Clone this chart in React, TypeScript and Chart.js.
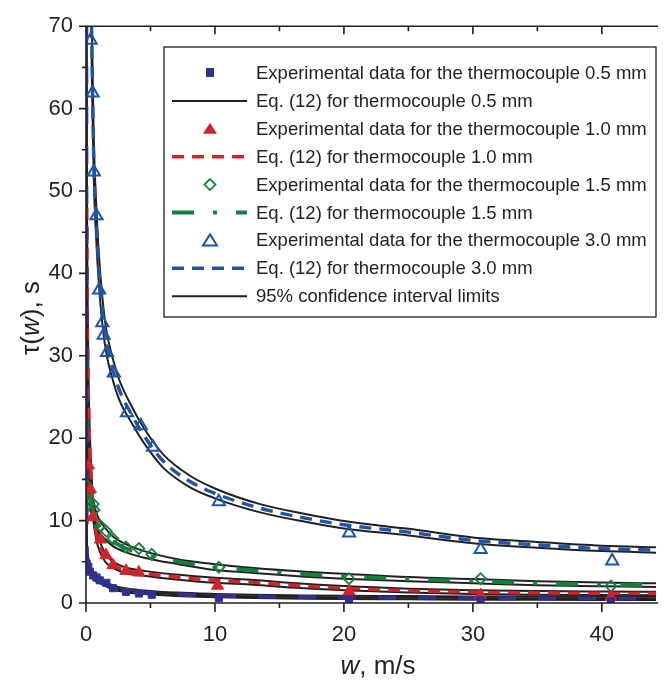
import React, { useEffect, useRef } from "react";
import { Chart, registerables } from "chart.js";

Chart.register(...registerables);

const FONT = '"Liberation Sans", Arial, Helvetica, sans-serif';
const INK = "#231f20";
const NAVY = "#2e3192";
const RED = "#d2232a";
const GREEN = "#15803d";
const BLUE = "#1d55a8";

const X_MIN = 0;
const X_MAX = 44.2;
const Y_MIN = 0;
const Y_MAX = 70;
const X_MAJOR = [0, 10, 20, 30, 40];
const X_MINOR = [5, 15, 25, 35];
const Y_MAJOR = [0, 10, 20, 30, 40, 50, 60, 70];
const Y_MINOR = [5, 15, 25, 35, 45, 55, 65];

// ---- thermocouple 0.5 mm ----
const W05 = [0.02, 0.05, 0.1, 0.2, 0.3, 0.5, 0.8, 1.0, 1.5, 2.0, 3.0, 4.5, 7, 10, 13, 17, 20, 25, 30, 35, 40, 44.5];
const T05_FIT = [70, 8, 5.6, 4.5, 3.9, 3.3, 2.9, 2.7, 2.3, 1.95, 1.55, 1.3, 1.05, 0.9, 0.8, 0.72, 0.68, 0.64, 0.6, 0.58, 0.56, 0.55];
const T05_UP = [75, 12, 6.3, 4.9, 4.25, 3.65, 3.2, 2.95, 2.55, 2.2, 1.78, 1.52, 1.26, 1.1, 1.0, 0.92, 0.88, 0.84, 0.8, 0.78, 0.76, 0.75];
const T05_LO = [null, 5.5, 4.8, 4.0, 3.5, 2.95, 2.6, 2.45, 2.05, 1.7, 1.32, 1.08, 0.84, 0.7, 0.6, 0.52, 0.48, 0.44, 0.4, 0.38, 0.36, 0.35];
const W05_EXP = [0.05, 0.18, 0.3, 0.56, 0.82, 1.07, 1.58, 2.09, 3.1, 4.1, 5.1, 10.3, 20.4, 30.6, 40.7];
const T05_EXP = [4.8, 4.4, 3.8, 3.35, 3.1, 2.75, 2.45, 1.8, 1.35, 1.15, 1.0, 0.6, 0.2, 0.35, 0.2];

// ---- thermocouple 1.0 mm ----
const W10 = [0.03, 0.06, 0.1, 0.15, 0.2, 0.3, 0.4, 0.55, 0.75, 1.0, 1.5, 2.0, 3.0, 4.5, 7, 10, 13, 16, 20, 25, 30, 35, 40, 44.5];
const T10_FIT = [null, 48, 37, 29, 24, 18.5, 15, 11.5, 9.0, 7.2, 5.5, 4.75, 4.0, 3.6, 3.15, 2.75, 2.5, 2.15, 1.8, 1.5, 1.32, 1.23, 1.18, 1.15];
const T10_UP = [75, 56, 42, 33, 27, 20.5, 16.6, 12.7, 9.9, 7.9, 6.0, 5.15, 4.35, 3.9, 3.45, 3.05, 2.78, 2.42, 2.05, 1.74, 1.55, 1.45, 1.39, 1.35];
const T10_LO = [null, 40, 32, 25.5, 21, 16.5, 13.4, 10.3, 8.1, 6.5, 5.0, 4.35, 3.65, 3.3, 2.85, 2.45, 2.22, 1.88, 1.55, 1.26, 1.09, 1.01, 0.97, 0.95];
const W10_EXP = [0.2, 0.33, 0.51, 1.12, 1.55, 2.09, 3.1, 4.1, 10.2, 20.4, 30.6, 40.7];
const T10_EXP = [16.7, 13.8, 10.4, 7.7, 5.8, 4.6, 3.9, 3.7, 2.1, 1.4, 0.96, 0.75];

// ---- thermocouple 1.5 mm ----
const W15 = [0.03, 0.06, 0.1, 0.15, 0.2, 0.3, 0.45, 0.7, 1.0, 1.5, 2.0, 3.0, 4.5, 7, 10, 13, 17, 20, 25, 30, 35, 40, 44.5];
const T15_FIT = [null, 30, 22, 17.5, 15.5, 13.5, 12.0, 10.5, 9.4, 8.4, 7.6, 6.7, 5.9, 5.05, 4.35, 3.95, 3.5, 3.25, 2.9, 2.65, 2.4, 2.25, 2.15];
const T15_UP = [75, 40, 27, 20.5, 17.5, 15.0, 13.2, 11.5, 10.2, 9.1, 8.2, 7.2, 6.3, 5.35, 4.7, 4.25, 3.8, 3.55, 3.15, 2.9, 2.65, 2.48, 2.38];
const T15_LO = [null, 23, 18, 15, 13.6, 12.0, 10.8, 9.5, 8.6, 7.7, 7.0, 6.2, 5.5, 4.75, 4.0, 3.65, 3.2, 2.95, 2.65, 2.4, 2.15, 2.02, 1.95];
const W15_EXP = [0.05, 0.18, 0.3, 0.56, 0.62, 1.1, 1.58, 2.09, 3.1, 4.1, 5.1, 10.3, 20.4, 30.6, 40.7];
const T15_EXP = [14.3, 13.3, 13.5, 12.0, 11.3, 9.4, 8.7, 7.8, 6.8, 6.6, 5.9, 4.35, 2.95, 2.95, 2.05];

// ---- thermocouple 3.0 mm ----
const W30 = [0.43, 0.5, 0.6, 0.8, 1.0, 1.3, 1.6, 2.0, 2.6, 3.6, 4.5, 6, 8, 10, 13.5, 17, 20, 25, 30, 35, 40, 44.5];
const T30_FIT = [70, 63, 54, 46, 40.5, 35, 31.5, 28.8, 25.8, 22.7, 20.3, 17.2, 14.8, 13.3, 11.5, 10.3, 9.5, 8.6, 7.6, 7.05, 6.6, 6.4];
const T30_UP = [73.2, 65.8, 56.4, 48.1, 42.3, 36.6, 32.9, 30.1, 27.0, 23.7, 21.2, 18.0, 15.5, 13.9, 12.0, 10.8, 9.95, 9.0, 7.95, 7.4, 6.95, 6.75];
const T30_LO = [66.9, 60.2, 51.6, 43.9, 38.7, 33.4, 30.1, 27.5, 24.6, 21.7, 19.4, 16.4, 14.1, 12.7, 11.0, 9.85, 9.05, 8.2, 7.25, 6.7, 6.3, 6.1];
const W30_EXP = [0.36, 0.51, 0.61, 0.81, 1.02, 1.27, 1.37, 1.63, 2.16, 3.18, 4.25, 5.19, 10.3, 20.4, 30.6, 40.8];
const T30_EXP = [68.3, 61.9, 52.3, 47.0, 38.0, 34.0, 32.5, 30.4, 27.9, 23.1, 21.5, 18.9, 12.3, 8.5, 6.5, 5.1];

const LEGEND_LABELS = [
  "Experimental data for the thermocouple 0.5 mm",
  "Eq. (12) for thermocouple 0.5 mm",
  "Experimental data for the thermocouple 1.0 mm",
  "Eq. (12) for thermocouple 1.0 mm",
  "Experimental data for the thermocouple 1.5 mm",
  "Eq. (12) for thermocouple 1.5 mm",
  "Experimental data for the thermocouple 3.0 mm",
  "Eq. (12) for thermocouple 3.0 mm",
  "95% confidence interval limits",
];
const LEGEND_KINDS = ["square", "line", "tri", "dash", "diamond", "dashdot", "otri", "dash", "line"];
const LEGEND_COLORS = [NAVY, INK, RED, RED, GREEN, GREEN, BLUE, BLUE, INK];

const DASH = [12, 8];
const DASHDOT = [22, 19, 4, 19];

function pts(xs: number[], ys: (number | null)[]) {
  return xs.map((x, i) => ({ x, y: ys[i] }));
}

function lineDs(data: any, color: string, width: number, dash: number[], order: number) {
  return {
    data,
    showLine: true,
    borderColor: color,
    backgroundColor: color,
    borderWidth: width,
    borderDash: dash,
    pointRadius: 0,
    pointHoverRadius: 0,
    fill: false,
    cubicInterpolationMode: "monotone",
    order,
  };
}

function pointDs(data: any, style: string, radius: number, fillColor: string, stroke: string, bw: number) {
  return {
    data,
    showLine: false,
    pointStyle: style,
    pointRadius: radius,
    pointBackgroundColor: fillColor,
    pointBorderColor: stroke,
    pointBorderWidth: bw,
    order: 0,
  };
}

const decorPlugin = {
  id: "decor",
  afterDraw(chart: any) {
    const { ctx, chartArea: a, scales } = chart;
    const xs = scales.x;
    const ys = scales.y;
    ctx.save();
    ctx.strokeStyle = INK;
    ctx.lineWidth = 1.6;
    ctx.setLineDash([]);
    ctx.beginPath();
    ctx.moveTo(a.left, a.top);
    ctx.lineTo(a.right + 2, a.top);
    ctx.moveTo(a.left, a.top - 0.8);
    ctx.lineTo(a.left, a.bottom + 0.8);
    ctx.moveTo(a.left, a.bottom);
    ctx.lineTo(a.right + 2, a.bottom);
    for (const v of X_MAJOR) {
      const p = xs.getPixelForValue(v);
      ctx.moveTo(p, a.bottom);
      ctx.lineTo(p, a.bottom + 9);
      ctx.moveTo(p, a.top);
      ctx.lineTo(p, a.top + 8);
    }
    for (const v of X_MINOR) {
      const p = xs.getPixelForValue(v);
      ctx.moveTo(p, a.bottom);
      ctx.lineTo(p, a.bottom + 5);
      ctx.moveTo(p, a.top);
      ctx.lineTo(p, a.top + 5);
    }
    for (const v of Y_MAJOR) {
      const p = ys.getPixelForValue(v);
      ctx.moveTo(a.left - 7, p);
      ctx.lineTo(a.left, p);
    }
    for (const v of Y_MINOR) {
      const p = ys.getPixelForValue(v);
      ctx.moveTo(a.left - 4, p);
      ctx.lineTo(a.left, p);
    }
    ctx.stroke();

    ctx.fillStyle = INK;
    ctx.textBaseline = "middle";
    ctx.textAlign = "left";
    const normal = `26px ${FONT}`;
    const italic = `italic 26px ${FONT}`;
    const drawParts = (parts: [string, string][], cx: number, cy: number) => {
      let total = 0;
      for (const [t, f] of parts) {
        ctx.font = f;
        total += ctx.measureText(t).width;
      }
      let x = cx - total / 2;
      for (const [t, f] of parts) {
        ctx.font = f;
        ctx.fillText(t, x, cy);
        x += ctx.measureText(t).width;
      }
    };
    drawParts([["w", italic], [", m/s", normal]], 378, 667);
    ctx.save();
    ctx.translate(32, 318);
    ctx.rotate(-Math.PI / 2);
    drawParts([["\u03c4(", normal], ["w", italic], ["), s", normal]], 0, 0);
    ctx.restore();

    const bx = 164, by = 47, bw = 492, bh = 270;
    ctx.fillStyle = "#ffffff";
    ctx.fillRect(bx, by, bw, bh);
    ctx.strokeStyle = INK;
    ctx.lineWidth = 1.3;
    ctx.strokeRect(bx, by, bw, bh);
    const rowY0 = 73, rowStep = 27.9;
    const lx1 = 172, lx2 = 247, mx = 210, tx = 256;
    ctx.font = `18.5px ${FONT}`;
    ctx.textBaseline = "middle";
    for (let i = 0; i < LEGEND_LABELS.length; i++) {
      const cy = rowY0 + i * rowStep;
      const kind = LEGEND_KINDS[i];
      const col = LEGEND_COLORS[i];
      ctx.strokeStyle = col;
      ctx.fillStyle = col;
      if (kind === "line" || kind === "dash" || kind === "dashdot") {
        ctx.lineWidth = kind === "line" ? 2 : kind === "dash" ? 3.4 : 4;
        ctx.setLineDash(kind === "line" ? [] : kind === "dash" ? DASH : DASHDOT);
        ctx.beginPath();
        ctx.moveTo(lx1, cy);
        ctx.lineTo(lx2, cy);
        ctx.stroke();
        ctx.setLineDash([]);
      } else if (kind === "square") {
        ctx.fillRect(mx - 4, cy - 5, 8, 9);
      } else if (kind === "tri" || kind === "otri") {
        ctx.beginPath();
        ctx.moveTo(mx, cy - 6);
        ctx.lineTo(mx + 7, cy + 5);
        ctx.lineTo(mx - 7, cy + 5);
        ctx.closePath();
        if (kind === "tri") ctx.fill();
        else {
          ctx.lineWidth = 2;
          ctx.stroke();
        }
      } else if (kind === "diamond") {
        ctx.beginPath();
        ctx.moveTo(mx, cy - 5.5);
        ctx.lineTo(mx + 5.5, cy);
        ctx.lineTo(mx, cy + 5.5);
        ctx.lineTo(mx - 5.5, cy);
        ctx.closePath();
        ctx.lineWidth = 1.8;
        ctx.stroke();
      }
      ctx.fillStyle = INK;
      ctx.fillText(LEGEND_LABELS[i], tx, cy + 1);
    }
    ctx.restore();
  },
};

export default function App() {
  const ref = useRef<HTMLCanvasElement | null>(null);
  useEffect(() => {
    if (!ref.current) return;
    const tickFont = { family: FONT, size: 22 };
    const chart = new Chart(ref.current, {
      type: "scatter",
      data: {
        datasets: [
          lineDs(pts(W05, T05_UP), INK, 2, [], 4),
          lineDs(pts(W05, T05_LO), INK, 2, [], 4),
          lineDs(pts(W10, T10_UP), INK, 2, [], 4),
          lineDs(pts(W10, T10_LO), INK, 2, [], 4),
          lineDs(pts(W15, T15_UP), INK, 2, [], 4),
          lineDs(pts(W15, T15_LO), INK, 2, [], 4),
          lineDs(pts(W30, T30_UP), INK, 2, [], 4),
          lineDs(pts(W30, T30_LO), INK, 2, [], 4),
          lineDs(pts(W05, T05_FIT), INK, 2, [], 3),
          lineDs(pts(W05, T05_FIT), NAVY, 4, [18, 22], 2),
          lineDs(pts(W10, T10_FIT), RED, 3.4, DASH, 3),
          lineDs(pts(W15, T15_FIT), GREEN, 4, DASHDOT, 3),
          lineDs(pts(W30, T30_FIT), BLUE, 3.4, DASH, 3),
          pointDs(pts(W05_EXP, T05_EXP), "rect", 5, NAVY, NAVY, 1),
          pointDs(pts(W10_EXP, T10_EXP), "triangle", 7, RED, RED, 1),
          pointDs(pts(W15_EXP, T15_EXP), "rectRot", 5.5, "rgba(255,255,255,0)", GREEN, 1.8),
          pointDs(pts(W30_EXP, T30_EXP), "triangle", 7, "rgba(255,255,255,0)", BLUE, 2),
        ] as any,
      },
      options: {
        animation: false,
        responsive: false,
        maintainAspectRatio: false,
        layout: { padding: { top: 16, left: 0, right: 0, bottom: 0 } },
        plugins: {
          legend: { display: false },
          tooltip: { enabled: false },
          title: { display: false },
        },
        scales: {
          x: {
            type: "linear",
            min: X_MIN,
            max: X_MAX,
            afterBuildTicks: (s: any) => {
              s.ticks = X_MAJOR.map((v) => ({ value: v }));
            },
            afterFit: (s: any) => {
              s.height = 81;
            },
            grid: { display: false, drawTicks: false },
            border: { display: false },
            ticks: {
              padding: 19,
              color: INK,
              font: tickFont,
              maxRotation: 0,
              autoSkip: false,
              callback: (v: any) => String(v),
            },
          },
          y: {
            type: "linear",
            min: Y_MIN,
            max: Y_MAX,
            afterBuildTicks: (s: any) => {
              s.ticks = Y_MAJOR.map((v) => ({ value: v }));
            },
            afterFit: (s: any) => {
              s.width = 86;
            },
            grid: { display: false, drawTicks: false },
            border: { display: false },
            ticks: {
              padding: 13,
              color: INK,
              font: tickFont,
              autoSkip: false,
              callback: (v: any) => String(v),
            },
          },
        },
      } as any,
      plugins: [decorPlugin],
    });
    return () => chart.destroy();
  }, []);

  return (
    <div style={{ position: "fixed", left: 0, top: 0, width: 665, height: 684, background: "#fff" }}>
      <canvas ref={ref} width={665} height={684} style={{ display: "block" }} />
    </div>
  );
}
